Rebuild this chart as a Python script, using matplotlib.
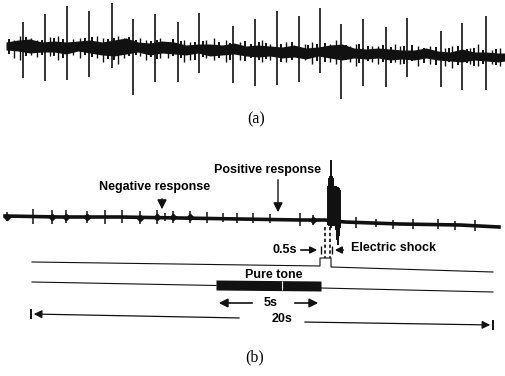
import matplotlib
matplotlib.use('Agg')
import matplotlib.pyplot as plt

# ---- trace (a): spontaneous firing ----
spike_a_x = [23, 45, 67, 89, 112, 133, 155, 178, 199, 233, 255, 277, 299, 320, 341, 363, 386, 407, 441, 462, 486]
spike_a_top = [22, 14, 6, 11, 3, 19, 14, 22, 13, 26, 19, 11, 16, 8, 24, 19, 27, 18, 31, 23, 16]
spike_a_bot = [78, 81, 80, 77, 68, 95, 82, 82, 73, 83, 86, 85, 82, 73, 99, 86, 87, 77, 87, 90, 90]

minor_a_x = [14, 20, 31, 37, 50, 58, 73, 80, 97, 103, 118, 124, 140, 146, 160, 168, 184, 190, 206, 214,
             226, 240, 262, 270, 286, 305, 312, 330, 336, 350, 356, 372, 378, 395, 400, 418, 430, 445, 452, 470,
             478, 492, 500]
minor_a_top = [40, 36, 38, 40, 37, 36, 39, 38, 36, 38, 36, 38, 38, 40, 38, 42, 40, 42, 40, 38,
               40, 42, 40, 44, 42, 44, 42, 44, 40, 46, 44, 46, 46, 44, 46, 46, 46, 48, 46, 48,
               44, 50, 48]
minor_a_bot = [58, 60, 55, 57, 56, 60, 55, 58, 58, 62, 64, 58, 56, 60, 58, 58, 62, 60, 58, 60,
               62, 60, 62, 60, 62, 60, 64, 62, 64, 62, 66, 62, 64, 62, 64, 66, 64, 66, 68, 64,
               66, 64, 66]

minor2_a_x = [9, 26, 42, 54, 63, 85, 92, 108, 114, 129, 136, 151, 157, 173, 181, 195, 203, 219, 230, 245,
              251, 259, 266, 281, 292, 308, 317, 325, 346, 359, 368, 383, 391, 404, 412, 424, 436, 449, 458, 467,
              474, 483, 496]
minor2_a_top = [39, 37, 40, 38, 39, 38, 37, 39, 38, 37, 40, 41, 40, 39, 41, 42, 41, 42, 43, 41,
                44, 42, 43, 44, 42, 45, 44, 43, 45, 44, 46, 45, 47, 46, 45, 48, 47, 48, 46, 49,
                48, 50, 49]
minor2_a_bot = [54, 56, 55, 56, 58, 55, 57, 59, 60, 56, 55, 57, 59, 56, 58, 60, 57, 58, 60, 61,
                58, 60, 59, 62, 60, 59, 61, 62, 60, 63, 61, 62, 63, 64, 61, 63, 65, 62, 65, 63,
                66, 64, 65]

env_a_x = [6, 18, 30, 42, 54, 66, 78, 90, 102, 114, 126, 138, 150, 162, 174, 186, 198, 210, 222, 234,
           246, 258, 270, 282, 294, 306, 318, 330, 342, 354, 366, 378, 390, 402, 414, 426, 438, 450, 462, 474,
           486, 498, 505]
env_a_top = [42, 40, 39, 42, 41, 42, 41, 40, 42, 40, 38, 42, 43, 41, 42, 45, 44, 44, 45, 43,
             46, 45, 46, 47, 45, 48, 47, 45, 44, 48, 49, 48, 49, 50, 50, 48, 51, 52, 49, 52,
             52, 53, 53]
env_a_bot = [50, 51, 53, 52, 52, 54, 51, 53, 55, 56, 54, 52, 55, 53, 54, 55, 53, 56, 55, 54,
             56, 57, 56, 58, 57, 59, 56, 58, 60, 58, 59, 58, 60, 59, 60, 58, 60, 61, 62, 60,
             61, 62, 61]

# ---- trace (b): conditioned response ----
base_b_x = [5, 60, 120, 180, 240, 300, 325, 345, 400, 460, 499]
base_b_y = [216, 217, 217, 218, 219, 220, 220, 222, 224, 225, 227]

spike_b_x = [7, 33, 52, 66, 87, 105, 122, 140, 157, 165, 173, 190, 207, 223, 237, 253, 270, 300, 313,
             356, 376, 393, 413, 438, 455, 475]
spike_b_top = [212, 209, 210, 210, 211, 210, 210, 211, 210, 213, 211, 211, 212, 213, 213, 213, 214, 213, 215,
               217, 219, 220, 219, 219, 221, 220]
spike_b_bot = [221, 224, 224, 223, 223, 224, 223, 224, 224, 221, 223, 223, 223, 222, 223, 223, 223, 226, 225,
               228, 227, 229, 229, 229, 230, 231]
blob_b_x = [7, 52, 66, 87, 140, 157, 173, 190, 313]

burst_x = [328, 329, 330, 331, 332, 333, 334, 335, 336, 337, 338, 339, 340]
burst_top = [186, 178, 176, 160, 176, 178, 186, 186, 186, 187, 187, 188, 190]
burst_bot = [225, 226, 226, 228, 226, 226, 226, 226, 230, 240, 245, 236, 228]

# stimulus markers
shock_x = [32, 320, 320, 331, 331, 493]
shock_y = [262, 266, 258, 258, 267, 272]
tone_left_x = [32, 216]
tone_left_y = [282, 285.5]
tone_right_x = [321, 493]
tone_right_y = [288, 292]
tone_on, tone_off = 216, 321

fig = plt.figure(figsize=(5.05, 3.76), dpi=100)
ax = fig.add_axes([0, 0, 1, 1])
ax.set_xlim(0, 505)
ax.set_ylim(376, 0)
ax.axis('off')

ink = '#111111'
sans = {'family': 'Liberation Sans', 'weight': 'bold', 'size': 9}

# (a)
ax.fill_between(env_a_x, env_a_top, env_a_bot, color=ink, lw=0)
ax.vlines(minor_a_x, minor_a_top, minor_a_bot, color=ink, lw=1.0)
ax.vlines(minor2_a_x, minor2_a_top, minor2_a_bot, color=ink, lw=1.4)
ax.vlines(spike_a_x, spike_a_top, spike_a_bot, color=ink, lw=1.2)
ax.text(256, 119, '(a)', family='Liberation Serif', size=11.5, ha='center', va='center')

# (b) trace
ax.plot(base_b_x, base_b_y, color=ink, lw=2.6)
ax.vlines(spike_b_x, spike_b_top, spike_b_bot, color=ink, lw=1.1)
blob_y = [(t + b) / 2 for x, t, b in zip(spike_b_x, spike_b_top, spike_b_bot) if x in blob_b_x]
ax.plot(blob_b_x, blob_y, 'D', ms=3.2, color=ink)
ax.vlines(burst_x, burst_top, burst_bot, color=ink, lw=1.4)
ax.vlines([325, 330], 227, 258, color=ink, lw=1.2, linestyles=(0, (2, 1.5)))

ax.text(155, 187, 'Negative response', ha='center', va='center', **sans)
ax.text(267, 170, 'Positive response', ha='center', va='center', **sans)
ax.annotate('', xy=(162, 212), xytext=(162, 196),
            arrowprops=dict(arrowstyle='-|>', color=ink, lw=1.0, mutation_scale=14))
ax.annotate('', xy=(278, 215), xytext=(278, 177),
            arrowprops=dict(arrowstyle='-|>', color=ink, lw=1.0, mutation_scale=14))

# 0.5 s / electric shock
ax.text(285, 250, '0.5s', ha='center', va='center', **sans)
ax.annotate('', xy=(320, 250), xytext=(298, 250),
            arrowprops=dict(arrowstyle='-|>', color=ink, lw=1.2, mutation_scale=10))
ax.annotate('', xy=(332, 250), xytext=(346, 250),
            arrowprops=dict(arrowstyle='-|>', color=ink, lw=1.2, mutation_scale=10))
ax.vlines([320.5, 331.5], 246, 254, color=ink, lw=1.0)
ax.text(351, 248, 'Electric shock', ha='left', va='center', **sans)

ax.plot(shock_x, shock_y, color=ink, lw=0.8)
ax.plot(tone_left_x, tone_left_y, color=ink, lw=0.8)
ax.plot(tone_right_x, tone_right_y, color=ink, lw=0.8)
ax.fill_between([tone_on, tone_off], [280, 281], [290, 291], color=ink, lw=0)
ax.vlines([282], 281, 290, color='white', lw=0.8)
ax.text(274, 275, 'Pure tone', ha='center', va='center', **sans)

# 5 s
ax.annotate('', xy=(tone_on, 303), xytext=(255, 303),
            arrowprops=dict(arrowstyle='-|>', color=ink, lw=1.2, mutation_scale=13))
ax.annotate('', xy=(tone_off, 303), xytext=(292, 303),
            arrowprops=dict(arrowstyle='-|>', color=ink, lw=1.2, mutation_scale=13))
ax.text(271, 303, '5s', ha='center', va='center', **sans)

# 20 s
ax.annotate('', xy=(31, 314), xytext=(242, 318),
            arrowprops=dict(arrowstyle='-|>', color=ink, lw=0.9, mutation_scale=12))
ax.annotate('', xy=(493, 325), xytext=(302, 322),
            arrowprops=dict(arrowstyle='-|>', color=ink, lw=0.9, mutation_scale=12))
ax.vlines([31, 493], [309, 320], [319, 330], color=ink, lw=1.4)
ax.text(282, 319.5, '20s', ha='center', va='center', **sans)

ax.text(255, 357, '(b)', family='Liberation Serif', size=11.5, ha='center', va='center')

plt.savefig('out.png', dpi=100)
